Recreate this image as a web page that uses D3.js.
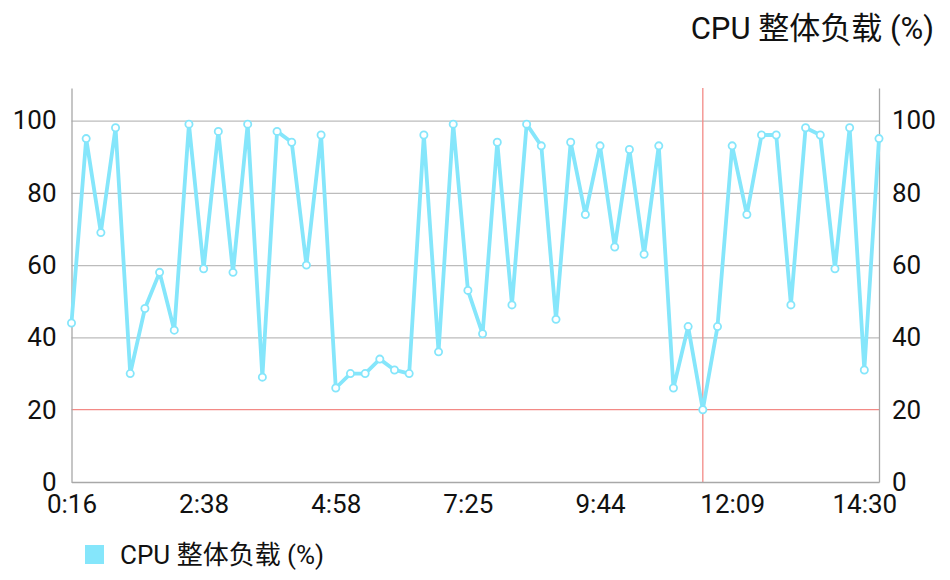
<!DOCTYPE html>
<html>
<head>
<meta charset="utf-8">
<script src="https://cdn.jsdelivr.net/npm/d3@7"></script>
<style>
  body { margin: 0; background: #fff; }
  text { font-family: Roboto, "Noto Sans CJK SC", sans-serif; fill: #111; }
</style>
</head>
<body>
<script>
// series values (one point per sample)
const cpuLoad = [44, 95, 69, 98, 30, 48, 58, 42, 99, 59, 97, 58, 99, 29, 97, 94, 60, 96, 26, 30,
                 30, 34, 31, 30, 96, 36, 99, 53, 41, 94, 49, 99, 93, 45, 94, 74, 93, 65, 92, 63,
                 93, 26, 43, 20, 43, 93, 74, 96, 96, 49, 98, 96, 59, 98, 31, 95];

// x tick labels and the sample index they sit on
const tickIndex = [0, 9, 18, 27, 36, 45, 54];
const tickLabels = ['0:16', '2:38', '4:58', '7:25', '9:44', '12:09', '14:30'];
const yTicks = [0, 20, 40, 60, 80, 100];

const seriesName = 'CPU 整体负载 (%)';
const limitValue = 20;   // red horizontal line
const selectedIndex = 43; // red vertical line

const margin = { top: 88, right: 71, bottom: 98, left: 71.5 };
const W = 950, H = 580;
const width = W - margin.left - margin.right;
const height = H - margin.top - margin.bottom;

const lineColor = '#85e6fb';
const redColor = '#f38a86';
const axisFont = '26px';

const svg = d3.select('body').append('svg')
  .attr('width', W)
  .attr('height', H);

const x = d3.scaleLinear().domain([0, cpuLoad.length - 1]).range([0, width]);
const y = d3.scaleLinear().domain([0, 109]).range([height, 0]);

const g = svg.append('g')
  .attr('transform', 'translate(' + margin.left + ',' + margin.top + ')');

// grid lines (skip the one under the red limit line)
g.append('g')
  .call(d3.axisLeft(y).tickValues(yTicks.filter(t => t !== limitValue)).tickSize(-width).tickFormat(''))
  .call(s => s.select('.domain').remove())
  .selectAll('line')
  .attr('stroke', '#bcbcbc')
  .attr('stroke-width', 1.2);

// limit line + selected vertical line
g.append('line')
  .attr('x1', 0).attr('x2', width)
  .attr('y1', y(limitValue)).attr('y2', y(limitValue))
  .attr('stroke', redColor).attr('stroke-width', 1.3);

g.append('line')
  .attr('x1', x(selectedIndex)).attr('x2', x(selectedIndex))
  .attr('y1', 0).attr('y2', height)
  .attr('stroke', redColor).attr('stroke-width', 1.3);

// left axis
g.append('g')
  .call(d3.axisLeft(y).tickValues(yTicks).tickSize(0).tickPadding(15))
  .call(s => s.select('.domain').attr('stroke', '#a8a8a8').attr('stroke-width', 1.3))
  .selectAll('text')
  .style('font-size', axisFont)
  .attr('fill', '#111');

// right axis
g.append('g')
  .attr('transform', 'translate(' + width + ',0)')
  .call(d3.axisRight(y).tickValues(yTicks).tickSize(0).tickPadding(13))
  .call(s => s.select('.domain').attr('stroke', '#a8a8a8').attr('stroke-width', 1.3))
  .selectAll('text')
  .style('font-size', axisFont)
  .attr('fill', '#111');

// bottom axis
g.append('g')
  .attr('transform', 'translate(0,' + height + ')')
  .call(d3.axisBottom(x).tickValues(tickIndex).tickSize(0).tickPadding(13)
    .tickFormat((d, i) => tickLabels[i]))
  .call(s => s.select('.domain').attr('stroke', '#a8a8a8').attr('stroke-width', 1.3))
  .selectAll('text')
  .style('font-size', axisFont)
  .attr('fill', '#111');

// the line
const valueline = d3.line()
  .x((d, i) => x(i))
  .y(d => y(d));

g.append('path')
  .datum(cpuLoad)
  .attr('fill', 'none')
  .attr('stroke', lineColor)
  .attr('stroke-width', 3.8)
  .attr('stroke-linejoin', 'round')
  .attr('d', valueline);

g.selectAll('.dot')
  .data(cpuLoad)
  .enter().append('circle')
  .attr('class', 'dot')
  .attr('cx', (d, i) => x(i))
  .attr('cy', d => y(d))
  .attr('r', 3.6)
  .attr('fill', '#fff')
  .attr('stroke', lineColor)
  .attr('stroke-width', 1.8);

// title, top right
svg.append('text')
  .attr('x', 934)
  .attr('y', 39)
  .attr('text-anchor', 'end')
  .style('font-size', '31px')
  .text(seriesName);

// legend
svg.append('rect')
  .attr('x', 85).attr('y', 545)
  .attr('width', 19).attr('height', 19)
  .attr('fill', lineColor);

svg.append('text')
  .attr('x', 120)
  .attr('y', 564)
  .style('font-size', '26px')
  .text(seriesName);
</script>
</body>
</html>
